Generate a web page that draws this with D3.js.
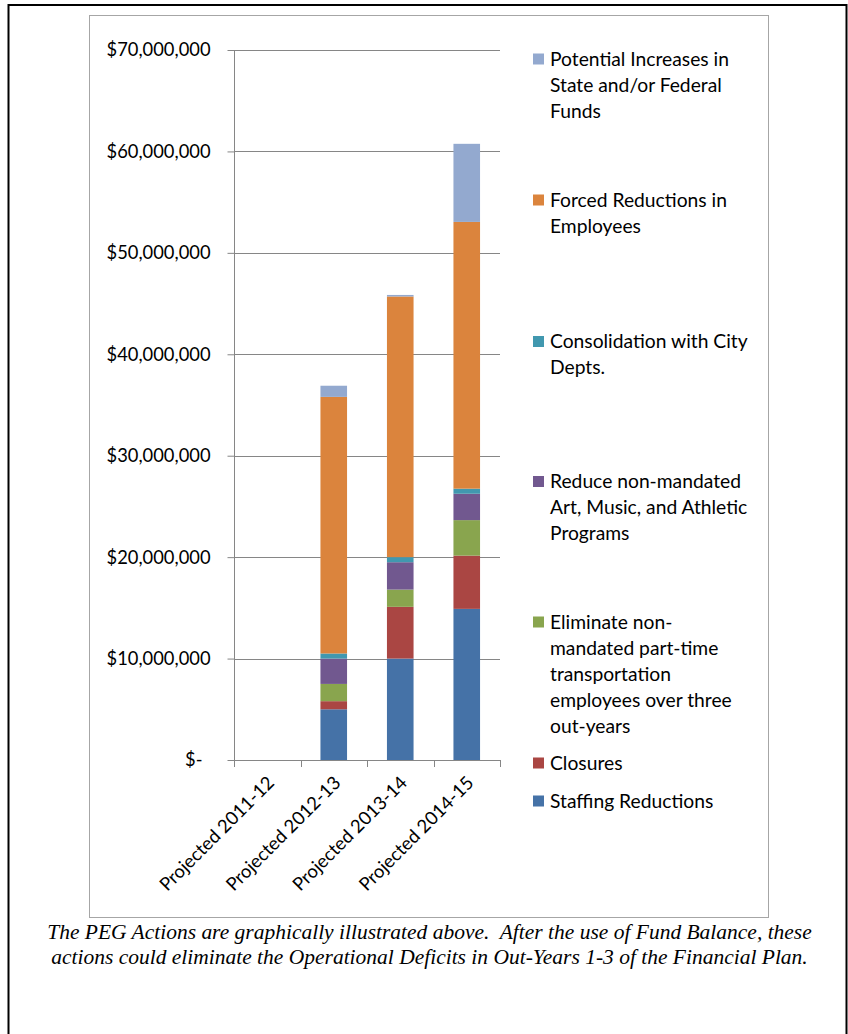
<!DOCTYPE html>
<html><head><meta charset="utf-8">
<script src="https://cdn.jsdelivr.net/npm/d3@7"></script>
<style>html,body{margin:0;padding:0;background:#fff;} svg{display:block;}</style>
</head><body>
<svg id="chart" width="848" height="1034"></svg>
<script>
// ---------- DATA ----------
const categories = ["Projected 2011-12", "Projected 2012-13", "Projected 2013-14", "Projected 2014-15"];
const staffingReductions = [0, 5000000, 10000000, 14900000];
const closures = [0, 800000, 5100000, 5250000];
const eliminateTransportation = [0, 1700000, 1700000, 3500000];
const reduceArtsMusicAthletics = [0, 2500000, 2700000, 2600000];
const consolidationCityDepts = [0, 500000, 500000, 500000];
const forcedReductions = [0, 25300000, 25700000, 26300000];
const potentialIncreases = [0, 1100000, 150000, 7700000];
const yTicks = [0, 10000000, 20000000, 30000000, 40000000, 50000000, 60000000, 70000000];
const seriesKeys = ["staffing", "closures", "eliminate", "reduce", "consolidation", "forced", "potential"];
const seriesLabels = {
  potential: ["Potential Increases in", "State and/or Federal", "Funds"],
  forced: ["Forced Reductions in", "Employees"],
  consolidation: ["Consolidation with City", "Depts."],
  reduce: ["Reduce non-mandated", "Art, Music, and Athletic", "Programs"],
  eliminate: ["Eliminate non-", "mandated part-time", "transportation", "employees over three", "out-years"],
  closures: ["Closures"],
  staffing: ["Staffing Reductions"]
};
const captionLines = [
  "The PEG Actions are graphically illustrated above.  After the use of Fund Balance, these",
  "actions could eliminate the Operational Deficits in Out-Years 1-3 of the Financial Plan."
];

// ---------- STYLE ----------
const colors = {
  staffing: "#4572a7", closures: "#aa4643", eliminate: "#89a54e", reduce: "#71588f",
  consolidation: "#4198af", forced: "#db843d", potential: "#93a9cf"
};
const SANS = "Lato, 'Open Sans', sans-serif";
const SERIF = "'Liberation Serif', 'DejaVu Serif', serif";

const svg = d3.select("#chart");
svg.append("rect").attr("width", 848).attr("height", 1034).attr("fill", "#fff");

function measure(str, size, family, style) {
  const t = svg.append("text").attr("font-family", family).attr("font-size", size)
    .attr("font-style", style || "normal").style("white-space", "pre").text(str);
  const w = t.node().getComputedTextLength();
  t.remove();
  return w;
}
const axisSize = 20 * 104 / measure("$70,000,000", 20, SANS);
const xLabelSize = 20 * 153 / measure("Projected 2011-12", 20, SANS);
const legendSize = 20 * 179 / measure("Potential Increases in", 20, SANS);
const captionSize = 20 * 765 / measure(captionLines[0], 20, SERIF, "italic");

// outer border and chart box
svg.append("path").attr("d", "M8.5,1034 V5 H846.5 V1034").attr("fill", "none")
  .attr("stroke", "#000").attr("stroke-width", 2);
svg.append("rect").attr("x", 89.5).attr("y", 15.5).attr("width", 679).attr("height", 902)
  .attr("fill", "#fff").attr("stroke", "#a6a6a6");

// scales
const y = d3.scaleLinear().domain([0, 70000000]).range([760, 50]);
const x = d3.scaleBand().domain(categories).range([234, 500]).paddingInner(0.6).paddingOuter(0.3);

// gridlines
svg.append("g").selectAll("line").data(yTicks.filter(d => d > 0)).join("line")
  .attr("x1", 234).attr("x2", 500)
  .attr("y1", d => Math.round(y(d)) + 0.5).attr("y2", d => Math.round(y(d)) + 0.5)
  .attr("stroke", "#868686").attr("stroke-width", 1);

// stacked bars
const table = categories.map((c, i) => ({
  category: c,
  staffing: staffingReductions[i], closures: closures[i], eliminate: eliminateTransportation[i],
  reduce: reduceArtsMusicAthletics[i], consolidation: consolidationCityDepts[i],
  forced: forcedReductions[i], potential: potentialIncreases[i]
}));
const stacked = d3.stack().keys(seriesKeys)(table);
svg.append("g").selectAll("g").data(stacked).join("g")
  .attr("fill", d => colors[d.key])
  .selectAll("rect").data(d => d).join("rect")
  .attr("x", d => x(d.data.category))
  .attr("width", x.bandwidth())
  .attr("y", d => y(d[1]))
  .attr("height", d => Math.max(0, y(d[0]) - y(d[1])));

// y axis
const fmt = d3.format("$,.0f");
const yAxis = svg.append("g").attr("transform", "translate(234.5,0)")
  .call(d3.axisLeft(y).tickValues(yTicks).tickSize(7).tickSizeOuter(0).tickPadding(17)
    .tickFormat(d => d === 0 ? "$-" : fmt(d)));
yAxis.selectAll("path,line").attr("stroke", "#868686");
yAxis.selectAll("text").attr("font-family", SANS).attr("font-size", axisSize).attr("fill", "#000");
yAxis.selectAll("text").filter(d => d === 0).attr("dx", -8);
yAxis.select(".domain").attr("d", "M0,50V760.5");

// x axis
const xg = svg.append("g");
xg.append("line").attr("x1", 234).attr("x2", 500.5).attr("y1", 760.5).attr("y2", 760.5)
  .attr("stroke", "#868686");
const bounds = d3.range(categories.length + 1).map(i => x.range()[0] + i * x.step());
xg.selectAll("line.tk").data(bounds).join("line").attr("class", "tk")
  .attr("x1", d => Math.round(d) + 0.5).attr("x2", d => Math.round(d) + 0.5)
  .attr("y1", 760).attr("y2", 767).attr("stroke", "#868686");
xg.selectAll("text").data(categories).join("text")
  .attr("transform", d => `translate(${x(d) + x.bandwidth() / 2 + 8},784) rotate(-45)`)
  .attr("text-anchor", "end")
  .attr("font-family", SANS).attr("font-size", xLabelSize).attr("fill", "#000")
  .text(d => d);

// legend
const legendOrder = seriesKeys.slice().reverse();
const legendTops = [59, 200, 341.5, 481.5, 622, 763, 801];
const lg = svg.append("g");
legendOrder.forEach((k, i) => {
  const cy = legendTops[i];
  lg.append("rect").attr("x", 533).attr("y", cy - 5.5).attr("width", 11).attr("height", 11)
    .attr("fill", colors[k]);
  const t = lg.append("text").attr("font-family", SANS).attr("font-size", legendSize).attr("fill", "#000");
  seriesLabels[k].forEach((line, j) => {
    t.append("tspan").attr("x", 550).attr("y", cy + j * 26).attr("dy", "0.36em").text(line);
  });
});

// caption
svg.append("g").selectAll("text").data(captionLines).join("text")
  .attr("x", 429.5).attr("y", (d, i) => 939 + i * 24.5)
  .attr("text-anchor", "middle").attr("font-family", SERIF).attr("font-style", "italic")
  .attr("font-size", captionSize).attr("fill", "#000")
  .style("white-space", "pre")
  .text(d => d);
</script>
</body></html>
